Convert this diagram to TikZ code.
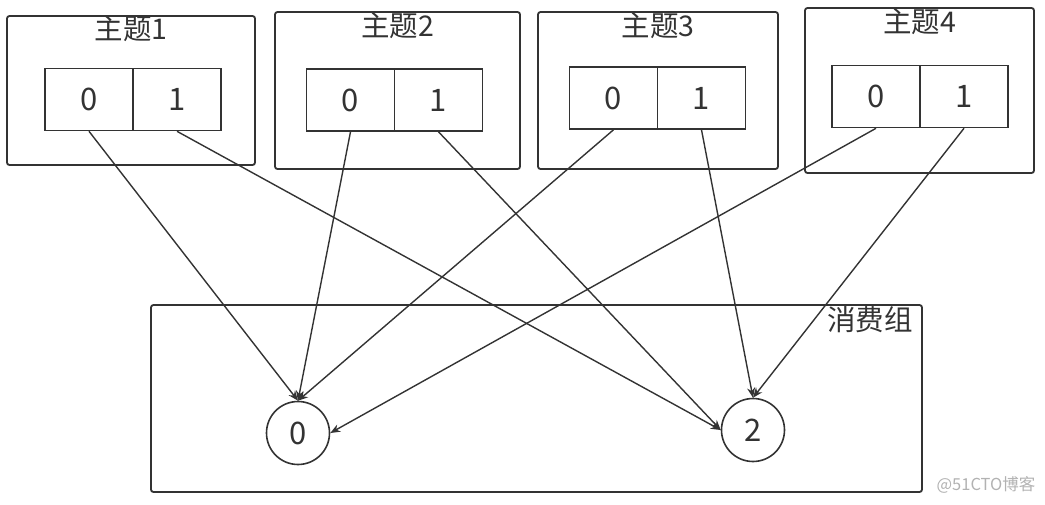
\documentclass[tikz,border=0pt]{standalone}
\usepackage{fontspec}
\setmainfont{Noto Sans CJK SC}
\usetikzlibrary{arrows.meta}
\definecolor{linegray}{HTML}{333333}

\begin{document}
\begin{tikzpicture}[x=1pt,y=-1pt,
  topic_box/.style={draw=linegray,line width=1.8pt,rounded corners=2.5pt,inner sep=0pt},
  part_node/.style={draw=linegray,line width=1.6pt,inner sep=0pt,minimum width=88pt,minimum height=62pt,font=\fontsize{31}{33}\selectfont,text=linegray},
  cons_node/.style={circle,draw=linegray,line width=1.6pt,inner sep=0pt,minimum size=63pt,font=\fontsize{31}{33}\selectfont,text=linegray},
  title_node/.style={font=\fontsize{28.5}{32}\selectfont,text=linegray,inner sep=0pt},
  flow/.style={draw=linegray,line width=1.4pt,-{Stealth[length=10pt,width=8pt]}}]
	\useasboundingbox (0,0) rectangle (1045,504);
	% consumer group
	\node[topic_box,minimum width=771pt,minimum height=187pt] (g) at (536.5,398.5) {};
	\node[title_node,anchor=east] (gl) at (913,320) {消费组};
	\node[cons_node] (c0) at (298,433) {0};
	\node[cons_node] (c2) at (753,430) {2};
	% topics
	\node[topic_box,minimum width=248pt,minimum height=149pt] (t1) at (131,90.5) {};
	\node[topic_box,minimum width=245pt,minimum height=157pt] (t2) at (397.5,90.5) {};
	\node[topic_box,minimum width=240pt,minimum height=157pt] (t3) at (658,90.5) {};
	\node[topic_box,minimum width=229pt,minimum height=165pt] (t4) at (919.5,90.5) {};
	\node[title_node] (l1) at (131,29) {主题1};
	\node[title_node] (l2) at (397.5,26) {主题2};
	\node[title_node] (l3) at (658,26) {主题3};
	\node[title_node] (l4) at (919.5,22) {主题4};
	% partitions
	\node[part_node] (p10) at (89,99.5) {0};
	\node[part_node] (p11) at (177,99.5) {1};
	\node[part_node] (p20) at (350.5,100) {0};
	\node[part_node] (p21) at (438.5,100) {1};
	\node[part_node] (p30) at (613.5,98) {0};
	\node[part_node] (p31) at (701.5,98) {1};
	\node[part_node] (p40) at (876,96.5) {0};
	\node[part_node] (p41) at (964,96.5) {1};
	% assignment
	\draw[flow] (p10.south) -- (c0.north);
	\draw[flow] (p20.south) -- (c0.north);
	\draw[flow] (p30.south) -- (c0.north);
	\draw[flow] (p40.south) -- (c0.east);
	\draw[flow] (p11.south) -- (c2.west);
	\draw[flow] (p21.south) -- (c2.west);
	\draw[flow] (p31.south) -- (c2.north);
	\draw[flow] (p41.south) -- (c2.north);
	\node[text=black!30,font=\fontsize{16.5}{18}\selectfont] (wm) at (986,485) {@51CTO博客};
\end{tikzpicture}
\end{document}
